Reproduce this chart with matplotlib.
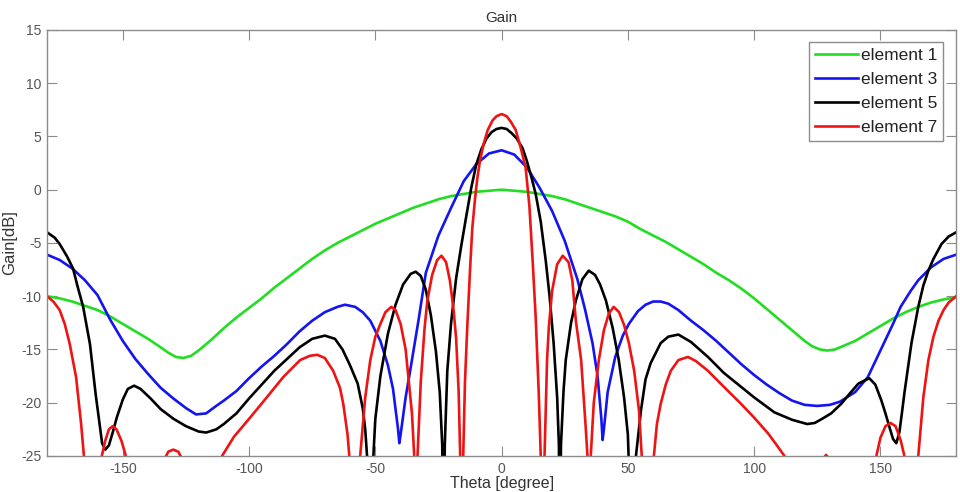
import matplotlib
matplotlib.use("Agg")
import matplotlib.pyplot as plt

plt.rcParams["font.family"] = ["Liberation Sans", "DejaVu Sans"]
plt.rcParams["axes.unicode_minus"] = False

# element 1 (green)
theta_e1 = [-180, -175, -170, -165, -160, -155, -150, -145, -140, -135, -132, -129, -126,
            -123, -120, -115, -110, -105, -100, -95, -90, -85, -80, -75, -70, -65, -60, -55, -50,
            -45, -40, -35, -30, -25, -20, -15, -10, -5, 0, 5, 10, 15, 20, 25, 30, 35, 40,
            45, 50, 55, 60, 65, 70, 75, 80, 85, 90, 95, 100, 105, 110, 115, 120, 123, 126, 129,
            132, 135, 140, 145, 150, 155, 160, 165, 170, 175, 180]
gain_e1 = [-10.0, -10.2, -10.5, -10.9, -11.3, -11.9, -12.6, -13.3, -14.0, -14.8, -15.3, -15.7, -15.8,
           -15.6, -15.1, -14.1, -13.0, -12.0, -11.1, -10.2, -9.2, -8.3, -7.4, -6.5, -5.7, -5.0, -4.4, -3.8, -3.2,
           -2.7, -2.2, -1.7, -1.3, -0.9, -0.6, -0.4, -0.2, -0.1, 0.0, -0.1, -0.2, -0.4, -0.6, -0.9, -1.3, -1.7, -2.1,
           -2.5, -3.0, -3.7, -4.3, -4.9, -5.6, -6.3, -7.0, -7.8, -8.5, -9.3, -10.2, -11.2, -12.2, -13.2, -14.2, -14.7, -15.0, -15.1,
           -15.0, -14.7, -14.2, -13.5, -12.8, -12.1, -11.5, -11.0, -10.6, -10.3, -10.1]

# element 3 (blue)
theta_e3 = [-180, -175, -170, -165, -160, -155, -150, -145, -140, -135, -130, -125, -121, -117,
            -113, -110, -105, -100, -95, -90, -85, -80, -75, -70, -65, -62, -58, -55, -52, -48,
            -45, -43, -41, -40.5, -40, -38, -36, -33, -30, -25, -20, -15, -10, -5, 0, 5, 10,
            15, 20, 25, 30, 33, 36, 38, 39.5, 40, 40.5, 42, 45, 48, 50.4, 54, 57, 60, 63, 66,
            70, 75, 80, 85, 90, 95, 100, 105, 110, 115, 120, 125, 130, 134, 140, 145, 150, 155,
            158, 162, 165, 170, 175, 180]
gain_e3 = [-6.1, -6.6, -7.4, -8.5, -9.9, -12.2, -14.2, -15.9, -17.3, -18.6, -19.6, -20.5, -21.1, -21.0,
           -20.3, -19.8, -18.9, -17.7, -16.6, -15.6, -14.5, -13.3, -12.3, -11.5, -11.0, -10.8, -11.0, -11.5, -12.3, -14.2,
           -16.5, -18.7, -22.5, -23.8, -23.0, -19.5, -16.7, -12.4, -7.8, -4.3, -1.7, 0.8, 2.4, 3.4, 3.7, 3.3, 2.1,
           0.2, -2.0, -4.8, -8.4, -11.2, -14.4, -17.5, -21.5, -23.5, -22.5, -19.0, -15.7, -13.7, -12.6, -11.4, -10.8, -10.5, -10.5, -10.7,
           -11.3, -12.3, -13.2, -14.2, -15.3, -16.4, -17.4, -18.3, -19.1, -19.8, -20.2, -20.3, -20.2, -19.9, -19.0, -17.6, -15.1, -12.6,
           -11.0, -9.5, -8.5, -7.3, -6.5, -6.1]

# element 5 (black)
theta_e5 = [-180, -177, -175, -172, -169.7, -168, -165.7, -163, -160.8, -158.2, -156.9, -155.5, -154,
            -152.4, -150, -148, -145.5, -143, -139, -135, -130, -125, -120, -117, -113, -110, -105,
            -100, -95, -90, -85, -80, -75, -70, -66, -63, -60, -57, -55, -54, -53, -52, -51, -50,
            -48, -45, -42, -39, -36, -34, -32, -30, -28, -26, -24.5, -23.5, -23, -22.5, -21.5, -20,
            -18, -16, -14, -12, -10, -8, -6, -4, -2, 0, 2, 4, 6, 8.3, 10, 12, 13.5, 15.5, 17.5,
            19, 20.6, 22, 22.7, 23, 23.5, 24.5, 25.4, 27.5, 29.4, 32, 34.5, 37, 39, 41.3, 44, 46.4,
            48.5, 50, 51, 52, 53.2, 55.2, 57, 59, 63, 66, 70, 75, 81.7, 88, 94.8, 100, 108, 115,
            121, 124, 127, 130.5, 134.5, 138, 141.3, 145.6, 148, 150.4, 152, 153.6, 155, 156.3, 157.5,
            158.5, 159.5, 161, 162.3, 165, 167, 169, 171, 174.2, 177, 180]
gain_e5 = [-4.0, -4.5, -5.1, -6.3, -7.4, -9.0, -11.0, -14.5, -19.1, -23.8, -24.4, -24.0, -22.8,
           -21.4, -19.7, -18.7, -18.4, -18.7, -19.6, -20.6, -21.5, -22.2, -22.7, -22.8, -22.5, -22.0, -21.0,
           -19.6, -18.3, -17.0, -15.9, -14.8, -14.0, -13.7, -14.0, -15.0, -16.5, -18.2, -20.5, -22.5, -26.0, -40.0, -26.0, -21.5,
           -17.5, -13.5, -10.8, -8.9, -7.9, -7.7, -8.1, -9.4, -11.8, -15.2, -19.0, -24.0, -40.0, -24.0, -17.0, -12.5,
           -8.3, -5.3, -2.5, 0.2, 2.4, 3.8, 4.8, 5.4, 5.7, 5.8, 5.7, 5.3, 4.8, 3.9, 2.7, 1.0, -0.4, -3.0, -6.7,
           -10.0, -14.4, -19.5, -24.0, -40.0, -24.0, -19.0, -16.0, -12.5, -10.4, -8.4, -7.6, -8.0, -8.9, -10.4, -13.0, -16.0,
           -19.5, -23.0, -30.0, -40.0, -25.0, -20.7, -17.8, -16.3, -14.4, -13.8, -13.6, -14.3, -15.7, -17.2, -18.5, -19.5, -20.9, -21.6,
           -22.0, -21.9, -21.5, -21.0, -20.1, -19.1, -18.2, -17.7, -18.3, -19.8, -21.0, -22.3, -23.4, -23.8, -22.8,
           -21.0, -19.1, -16.6, -14.4, -11.0, -9.0, -7.6, -6.5, -5.1, -4.4, -4.0]

# element 7 (red)
theta_e7 = [-180, -177.5, -175, -173, -171, -168.5, -166.5, -165.4, -161, -158.3, -157, -155.5,
            -154, -152.5, -150.5, -148.8, -144, -138, -133.5, -132, -130, -128, -126.5, -122,
            -115, -110.7, -106, -99.6, -93, -86.5, -79.8, -76, -73, -70, -66.7, -64, -62.7, -61,
            -60.3, -58, -56, -54, -52, -50, -48, -46, -43.7, -42, -40, -38, -36.9, -35.5, -34.6,
            -34, -33.3, -32, -30.5, -29.4, -27.5, -25.5, -23.8, -22, -20.5, -19, -18, -17, -16.4,
            -16, -15.2, -14.5, -13.6, -12.5, -11.6, -10.5, -9.6, -8.5, -7.1, -5.5, -3.6, -2, 0,
            2, 3.6, 5.6, 7.5, 9.5, 11, 12.3, 13.5, 14.7, 15.5, 16.2, 17, 18, 18.7, 20, 22, 24.2,
            26.5, 28, 29.4, 31.5, 33.3, 34, 34.5, 35.3, 36.5, 38.5, 40.5, 42.5, 44.4, 46.5, 48.5,
            50.4, 52.5, 54.4, 55.5, 57, 60.3, 61.5, 63, 65, 67, 70, 73.8, 77, 81.7, 88, 94.8, 100,
            105.6, 109, 112, 118, 124, 126.5, 128.5, 130.5, 137, 143, 148.4, 150, 152, 154, 156,
            158, 159.5, 162, 165, 167, 169, 171, 173, 175, 177, 180]
gain_e7 = [-10.0, -10.5, -11.3, -12.6, -14.5, -17.6, -22.0, -25.0, -35.0, -25.0, -23.6, -22.5,
           -22.2, -22.5, -23.6, -25.0, -35.0, -35.0, -25.3, -24.6, -24.4, -24.6, -25.3, -35.0,
           -35.0, -25.0, -23.2, -21.4, -19.5, -17.6, -16.0, -15.6, -15.5, -15.8, -17.0, -18.6, -20.1, -23.0,
           -25.0, -40.0, -25.0, -19.5, -16.0, -13.8, -12.6, -11.5, -11.0, -11.3, -12.6, -15.0, -17.6, -21.0, -25.0,
           -40.0, -25.0, -18.0, -13.0, -10.4, -8.0, -6.6, -6.2, -6.8, -8.5, -11.3, -14.0, -19.0, -25.0,
           -40.0, -25.0, -18.0, -12.9, -7.5, -3.6, -0.8, 1.1, 2.8, 4.3, 5.6, 6.5, 6.9, 7.1,
           6.9, 6.4, 5.6, 4.0, 2.1, -1.5, -6.7, -12.0, -19.0, -25.0, -40.0, -25.0, -16.0, -12.9, -9.5, -7.0, -6.2,
           -6.8, -8.5, -12.3, -16.0, -22.3, -25.0, -40.0, -25.0, -20.0, -16.0, -13.2, -11.6, -11.0, -11.5, -12.7,
           -14.4, -17.0, -20.7, -25.0, -40.0, -25.0, -22.0, -20.1, -18.3, -17.0, -16.0, -15.7, -16.1, -17.0, -18.5, -20.1, -21.4,
           -22.9, -24.0, -25.0, -35.0, -35.0, -25.5, -24.9, -25.5, -35.0, -35.0, -25.0, -23.3, -22.2, -21.9, -22.2,
           -23.5, -25.0, -35.0, -25.0, -19.5, -16.0, -13.8, -12.3, -11.3, -10.6, -10.0]

labels = ["element 1", "element 3", "element 5", "element 7"]
colors = ["#22dd22", "#1414f0", "#000000", "#ee1414"]

fig = plt.figure(figsize=(9.6, 4.92), dpi=100)
ax = fig.add_axes([0.049, 0.0732, 0.947, 0.866])

series = [(theta_e1, gain_e1), (theta_e3, gain_e3), (theta_e5, gain_e5), (theta_e7, gain_e7)]
for (th, g), lab, c in zip(series, labels, colors):
    ax.plot(th, g, color=c, lw=1.9, label=lab)

ax.set_xlim(-180, 180)
ax.set_ylim(-25, 15)
ax.set_xticks([-150, -100, -50, 0, 50, 100, 150])
ax.set_yticks([-25, -20, -15, -10, -5, 0, 5, 10, 15])

gray = "#8c8c8c"
for s in ax.spines.values():
    s.set_color(gray)
    s.set_linewidth(1.0)
ax.tick_params(direction="in", length=7, width=0.8, color=gray, labelcolor="#555555",
               labelsize=10, top=True, right=True, pad=4)

ax.set_title("Gain", fontsize=11, color="#333333", pad=6)
ax.set_xlabel("Theta [degree]", fontsize=11.5, color="#333333", labelpad=0)
ax.set_ylabel("Gain[dB]", fontsize=12, color="#333333")
ax.yaxis.set_label_coords(-0.033, 0.5)

leg = ax.legend(loc="upper right", bbox_to_anchor=(0.9857, 0.9718), borderaxespad=0,
                fontsize=12.5, fancybox=False, framealpha=1, edgecolor=gray,
                handlelength=2.5, handletextpad=0.15, labelspacing=0.5, borderpad=0.35)
leg.get_frame().set_linewidth(1.0)
for t in leg.get_texts():
    t.set_color("#222222")

fig.savefig("out.png", dpi=100)
plt.close(fig)
